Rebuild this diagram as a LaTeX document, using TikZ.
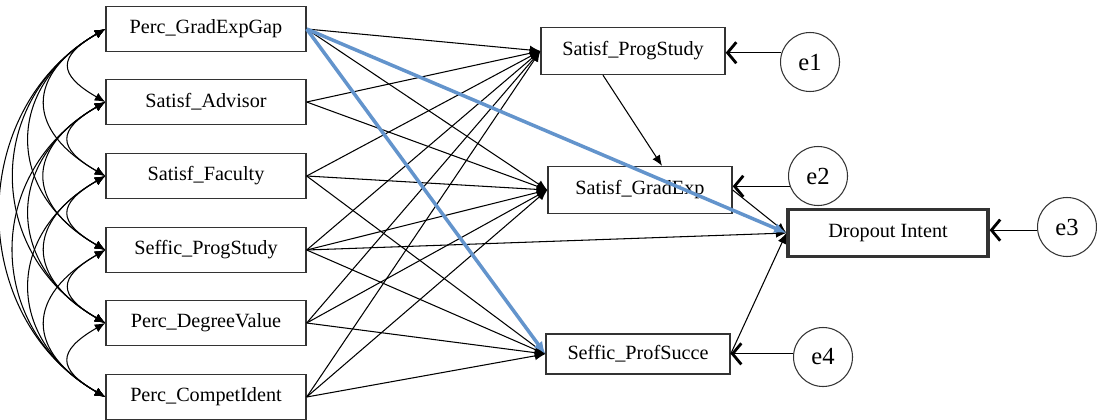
\documentclass[tikz,border=0pt]{standalone}
\usepackage{fontspec}
\setmainfont{Liberation Serif}
\usetikzlibrary{arrows.meta}
\definecolor{pathblue}{RGB}{99,148,204}

\begin{document}
\begin{tikzpicture}[x=0.02cm, y=-0.02cm, font=\fontsize{11.5}{13}\selectfont]
        \tikzstyle{obs}=[draw=black!80, line width=0.8pt, minimum width=4cm, minimum height=0.9cm, inner sep=0pt]
        \tikzstyle{endo}=[obs, minimum width=3.68cm, minimum height=0.94cm]
        \tikzstyle{errc}=[draw=black!80, line width=0.6pt, circle, minimum size=1.18cm, inner sep=0pt, font=\fontsize{14}{16}\selectfont]
        \tikzstyle{reg}=[-{Latex[length=6pt, width=5pt]}, line width=0.6pt]
        \tikzstyle{hilite}=[-{Latex[length=7pt, width=6pt]}, line width=2pt, pathblue]
        \tikzstyle{cov}=[{Latex[length=6pt, width=5pt]}-{Latex[length=6pt, width=5pt]}, line width=0.6pt]
        \tikzstyle{errarr}=[-{Straight Barb[length=5pt, width=12pt, line width=1.6pt]}, line width=0.6pt]
        \useasboundingbox (0,0) rectangle (1097,419);
        \node[obs] (x1) at (206,  29) {Perc\_GradExpGap};
        \node[obs] (x2) at (206, 102) {Satisf\_Advisor};
        \node[obs] (x3) at (206, 176) {Satisf\_Faculty};
        \node[obs] (x4) at (206, 250) {Seffic\_ProgStudy};
        \node[obs] (x5) at (206, 323) {Perc\_DegreeValue};
        \node[obs] (x6) at (206, 397) {Perc\_CompetIdent};
        \node[endo] (m1) at (633,  51) {Satisf\_ProgStudy};
        \node[endo] (m2) at (640, 190) {Satisf\_GradExp};
        \node[endo, minimum height=0.8cm] (m3) at (638, 354) {Seffic\_ProfSucce};
        \node[obs, line width=1.8pt, minimum height=0.94cm] (drop) at (888, 233) {Dropout Intent};
        \node[errc] (e1) at (810,   62) {e1};
        \node[errc] (e2) at (818,  176) {e2};
        \node[errc] (e3) at (1067, 227) {e3};
        \node[errc] (e4) at (823,  357) {e4};
        \foreach \i in {1,...,5} {
            \pgfmathtruncatemacro{\nxt}{\i+1}
            \foreach \j in {\nxt,...,6} {
                \pgfmathsetmacro{\lo}{{1.94,1.61,1.35,1.22,1.12}[\j-\i-1]}
                \draw[cov] (x\i.west) to[out=210, in=150, looseness=\lo] (x\j.west);
            }
        }
        \foreach \i in {1,...,6} {
            \draw[reg] (x\i.east) -- (m1.west);
            \draw[reg] (x\i.east) -- (m2.west);
        }
        \foreach \i in {3,...,6}
            \draw[reg] (x\i.east) -- (m3.west);
        \draw[reg] (x4.east) -- (drop.west);
        \draw[reg] ([xshift=-0.6cm]m1.south) -- ([xshift=0.44cm]m2.north);
        \draw[reg] (m2.east) -- (drop.west);
        \draw[reg] (m3.east) -- (drop.west);
        \draw[hilite] (x1.east) -- (m3.west);
        \draw[hilite] (x1.east) -- (drop.west);
        \draw[errarr] (e1.162) -- (e1.162 -| m1.east);
        \draw[errarr] (e2.200) -- (e2.200 -| m2.east);
        \draw[errarr] (e3.186) -- (e3.186 -| drop.east);
        \draw[errarr] (e4.174) -- (e4.174 -| m3.east);
    \end{tikzpicture}
\end{document}
